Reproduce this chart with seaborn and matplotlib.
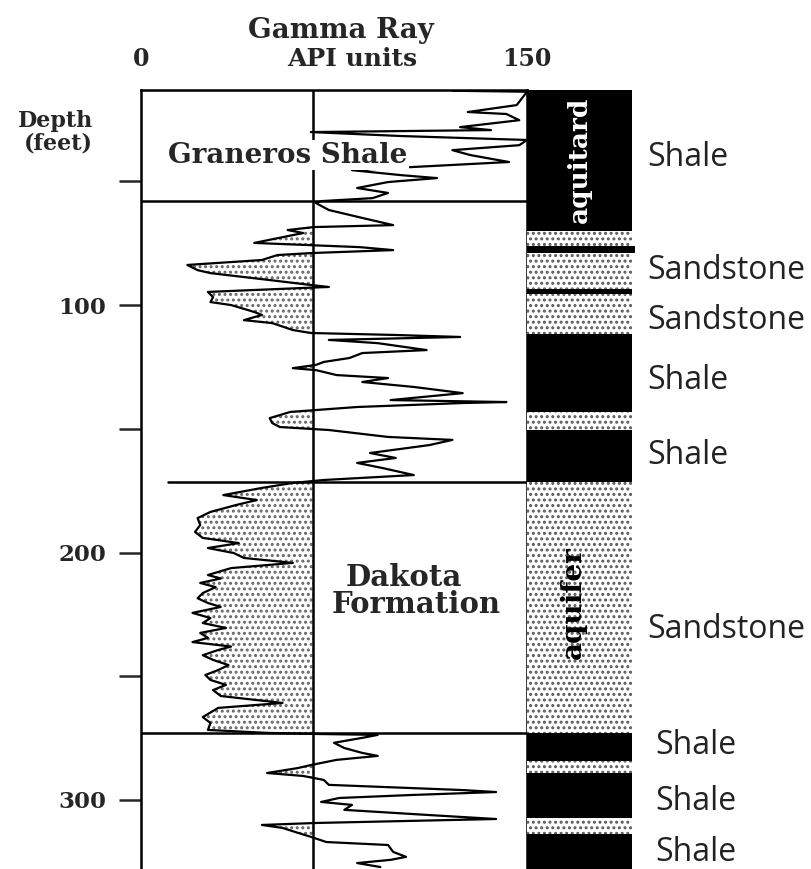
import numpy as np
import pandas as pd
import matplotlib
matplotlib.use("Agg")
import matplotlib.pyplot as plt
import seaborn as sns

# --- gamma ray log (depth in feet, GR in API units) ---
depth = [13.4, 13.8, 19.2, 22.0, 22.8, 25.3, 28.1, 29.3, 30.1, 31.7, 33.3, 35.4, 37.4, 39.4,
         42.2, 45.5, 47.5, 48.7, 50.3, 52.7, 54.7, 56.8, 58.0, 58.8, 61.6, 64.8, 67.7, 68.5,
         69.7, 70.9, 74.9, 75.8, 76.6, 77.8, 79.0, 79.8, 81.8, 83.8, 85.9, 87.1, 89.9, 91.9,
         92.7, 93.1, 94.7, 96.8, 98.8, 100.0, 102.8, 104.0, 106.1, 107.3, 110.1, 111.3, 112.1,
         112.9, 114.1, 115.4, 118.2, 119.4, 121.4, 123.0, 124.2, 125.5, 126.3, 128.3, 129.5,
         131.1, 133.1, 135.6, 138.4, 139.2, 139.6, 141.2, 143.2, 145.7, 147.7, 149.3, 150.5,
         153.3, 154.5, 156.6, 159.8, 161.8, 163.8, 165.9, 168.7, 170.7, 171.9, 173.9, 176.8,
         178.8, 180.8, 183.6, 186.1, 188.9, 191.7, 194.1, 196.2, 198.2, 200.2, 202.2, 204.2,
         206.3, 209.1, 210.5, 212.3, 214.0, 216.4, 218.5, 220.4, 222.0, 224.4, 226.5, 228.5,
         230.5, 232.5, 234.5, 236.2, 238.0, 239.4, 241.5, 243.4, 245.5, 247.5, 249.5, 251.5,
         253.5, 255.6, 258.0, 260.8, 262.8, 266.5, 268.9, 271.7, 272.9, 273.3, 273.7, 274.9,
         276.9, 279.0, 281.0, 282.2, 283.8, 285.9, 287.1, 289.1, 290.3, 291.9, 293.9, 296.0,
         296.8, 298.0, 299.2, 300.8, 302.0, 304.0, 306.1, 307.7, 309.3, 310.1, 311.3, 313.3,
         314.9, 317.0, 318.2, 321.0, 323.0, 324.2, 325.5, 327.1]
gamma = [121, 150, 146, 127, 142, 147, 124, 136, 66, 101, 150, 147, 121, 128,
         143, 82, 101, 115, 96, 84, 96, 90, 70, 68, 73, 86, 98, 67,
         57, 63, 44, 66, 85, 98, 66, 53, 47, 18, 22, 27, 50, 66,
         73, 63, 26, 28, 27, 35, 44, 47, 40, 51, 59, 66, 99,
         124, 73, 92, 111, 86, 81, 71, 68, 59, 68, 76, 96,
         86, 106, 125, 97, 142, 125, 84, 58, 50, 51, 54, 73,
         96, 121, 112, 89, 99, 84, 94, 106, 71, 59, 47, 32,
         45, 37, 27, 22, 23, 21, 24, 38, 26, 36, 40, 59,
         35, 26, 31, 23, 29, 24, 22, 26, 31, 20, 27, 24,
         33, 23, 26, 20, 35, 30, 24, 28, 34, 30, 25, 27,
         33, 28, 31, 55, 30, 24, 27, 26, 49, 66, 92, 86,
         75, 79, 86, 92, 76, 66, 61, 49, 63, 71, 73, 125,
         138, 105, 77, 70, 82, 79, 112, 138, 68, 47, 55, 61,
         66, 72, 96, 98, 103, 97, 84, 93]
sand_cutoff = 67

# formation tops
boundaries = [58.0, 171.5, 273.0]

# lithology column
lith_top = [13.0, 70.1, 76.2, 79.0, 93.5, 95.6, 111.7, 143.2, 150.5, 171.5, 272.9, 284.2, 289.1, 307.3, 313.7]
lith_base = [70.1, 76.2, 79.0, 93.5, 95.6, 111.7, 143.2, 150.5, 171.5, 272.9, 284.2, 289.1, 307.3, 313.7, 328.0]
lith_type = ["shale", "sand", "shale", "sand", "shale", "sand", "shale", "sand", "shale", "sand",
             "shale", "sand", "shale", "sand", "shale"]

# labels to the right of the column
label_text = ["Shale", "Sandstone", "Sandstone", "Shale", "Shale", "Sandstone", "Shale", "Shale", "Shale"]
label_depth = [40.2, 85.9, 106.1, 130.3, 160.6, 231.3, 277.8, 300.8, 321.4]

sns.set_style("white")
plt.rcParams["font.family"] = ["DejaVu Serif"]
plt.rcParams["hatch.linewidth"] = 1.4

df = pd.DataFrame({"depth": depth, "gamma": gamma})

W, H = 811, 869
fig = plt.figure(figsize=(W / 100, H / 100), dpi=100)
ax = fig.add_axes([141 / W, 0, 386 / W, 779 / H])
ax_l = fig.add_axes([527 / W, 0, 105 / W, 779 / H])

# sand shading left of the cutoff
d = np.array(depth)
g = np.array(gamma)
ax.fill_betweenx(d, g, sand_cutoff, where=g < sand_cutoff, interpolate=True,
                 facecolor="white", edgecolor="0.4", linewidth=0, hatch="...", zorder=1)
sns.lineplot(data=df, x="gamma", y="depth", sort=False, orient="y", estimator=None,
             color="black", linewidth=1.6, ax=ax, zorder=3)

ax.axvline(sand_cutoff, color="black", lw=1.8, zorder=2)
for i, b in enumerate(boundaries):
    xmin = 10.5 / 150 if i == 1 else 0
    ax.axhline(b, xmin=xmin, color="black", lw=1.8, zorder=2)

ax.set_xlim(0, 150)
ax.set_ylim(327.9, 13.1)
ax.set_xlabel("")
ax.set_ylabel("")
ax.xaxis.tick_top()
ax.set_xticks([0, 150])
ax.set_xticklabels(["0", "150"], fontsize=17, fontweight="bold")
ax.tick_params(axis="x", length=0, pad=14)
ax.set_yticks([100, 200, 300])
ax.set_yticks([50, 150, 250], minor=True)
ax.set_yticklabels(["100", "200", "300"], fontsize=16.5, fontweight="bold")
ax.tick_params(axis="y", which="both", left=True, length=16, width=1.8, direction="out", pad=9)
for s in ["top", "left", "right"]:
    ax.spines[s].set_color("black")
    ax.spines[s].set_linewidth(1.8)
ax.spines["bottom"].set_visible(False)

ax.text(57, 39.4, "Graneros Shale", ha="center", va="center", fontsize=20, fontweight="bold",
        bbox=dict(facecolor="white", edgecolor="none", pad=1), zorder=4)
ax.text(102, 210.3, "Dakota", ha="center", va="center", fontsize=21, fontweight="bold", zorder=4)
ax.text(107, 221.2, "Formation", ha="center", va="center", fontsize=21, fontweight="bold", zorder=4)
ax.text(0.518, 1.077, "Gamma Ray", transform=ax.transAxes, ha="center", va="center",
        fontsize=20, fontweight="bold")
ax.text(0.547, 1.040, "API units", transform=ax.transAxes, ha="center", va="center",
        fontsize=18, fontweight="bold")
fig.text(56 / W, 1 - 121 / H, "Depth", ha="center", va="center", fontsize=16, fontweight="bold")
fig.text(58 / W, 1 - 144 / H, "(feet)", ha="center", va="center", fontsize=16, fontweight="bold")

# lithology column
for top, base, kind in zip(lith_top, lith_base, lith_type):
    if kind == "shale":
        wid = 1.03 if top == 76.2 else 1.0
        ax_l.bar(0, base - top, bottom=top, width=wid, align="edge", color="black",
                 linewidth=0, clip_on=False)
    else:
        ax_l.bar(0, base - top, bottom=top, width=1.0, align="edge", facecolor="white",
                 edgecolor="0.35", linewidth=0, hatch="...")
ax_l.set_xlim(0, 1)
ax_l.set_ylim(327.9, 13.1)
ax_l.axis("off")
ax_l.text(0.5, 41.4, "aquitard", rotation=90, ha="center", va="center", color="white",
          fontsize=19, fontweight="bold")
ax_l.text(0.44, 220.4, "aquifer", rotation=90, ha="center", va="center", color="black",
          fontsize=20, fontweight="bold")

for txt, dep in zip(label_text, label_depth):
    xo = 1.22 if dep > 270 else 1.15
    ax_l.text(xo, dep, txt, transform=ax_l.get_yaxis_transform(), ha="left", va="center",
              fontsize=23, family=["Open Sans", "DejaVu Sans"], color="#222222", clip_on=False)

fig.savefig("out.png", dpi=100)
